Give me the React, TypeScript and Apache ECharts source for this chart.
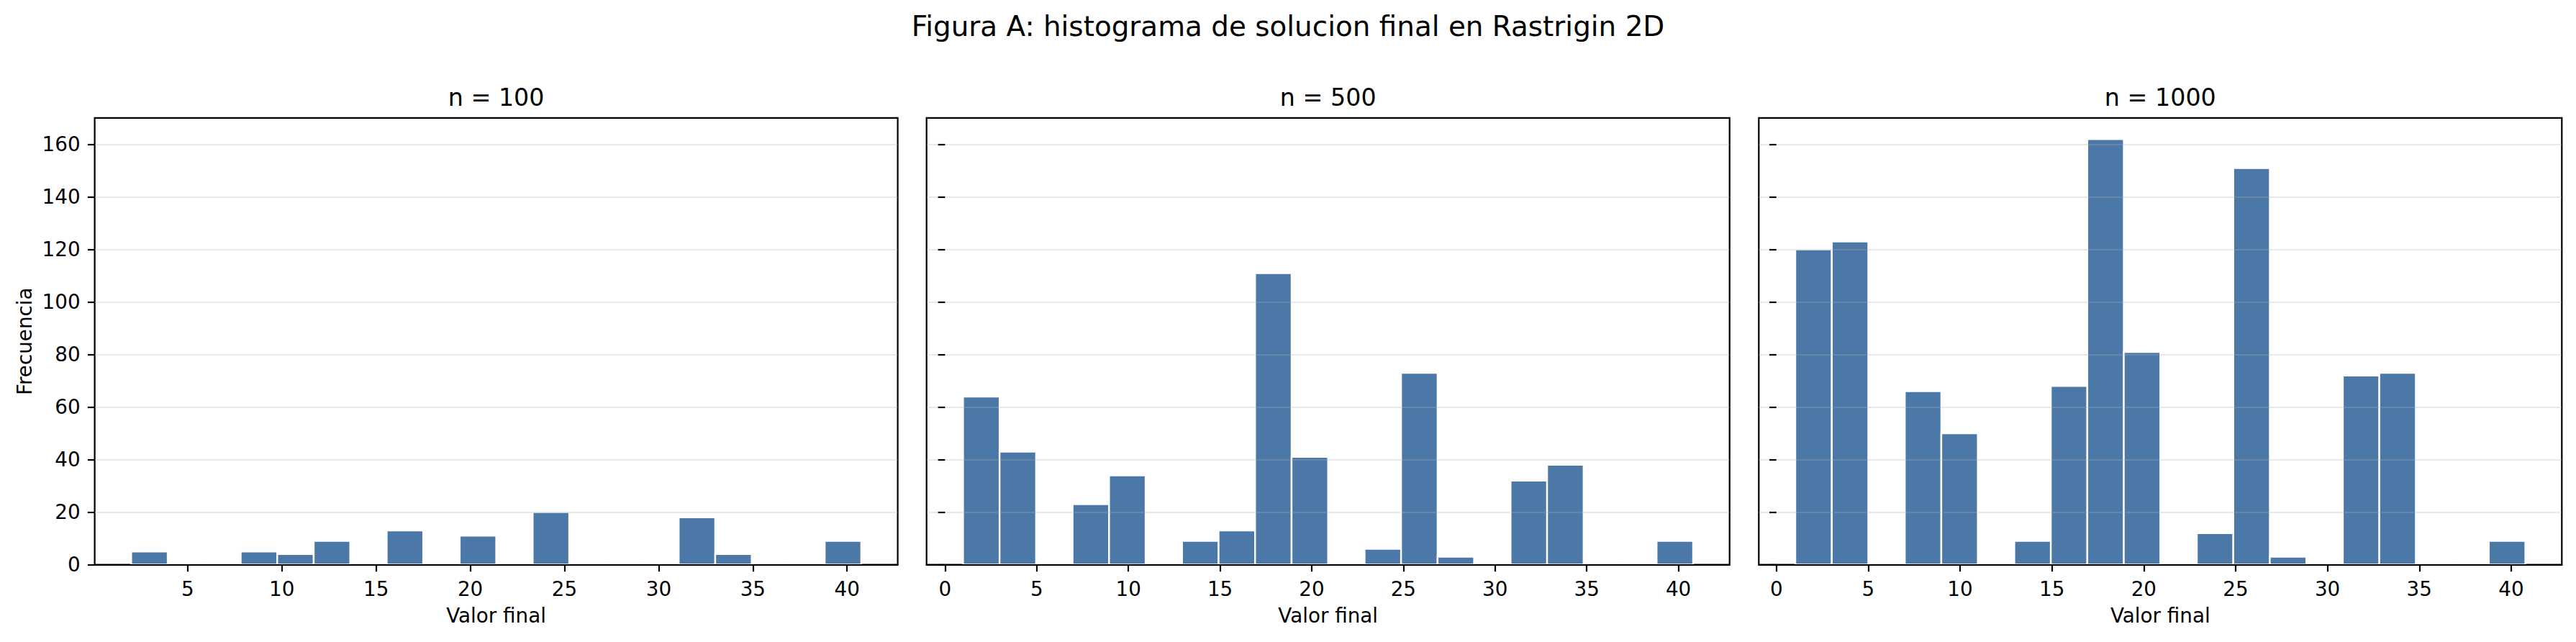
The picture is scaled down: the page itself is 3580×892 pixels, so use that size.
import React, { useEffect, useRef } from "react";
import * as echarts from "echarts";

// ---- data ----
const figureTitle = "Figura A: histograma de solucion final en Rastrigin 2D";
const panelTitles = ["n = 100", "n = 500", "n = 1000"];
const xAxisName = "Valor final";
const yAxisName = "Frecuencia";

// histogram bin range (20 equal bins) per panel
const binStarts = [2.0, 0.984, 1.03];
const binEnds = [40.75, 40.8, 40.77];
const binCount = 20;

const counts100 = [5, 0, 0, 5, 4, 9, 0, 13, 0, 11, 0, 20, 0, 0, 0, 18, 4, 0, 0, 9];
const counts500 = [64, 43, 0, 23, 34, 0, 9, 13, 111, 41, 0, 6, 73, 3, 0, 32, 38, 0, 0, 9];
const counts1000 = [120, 123, 0, 66, 50, 0, 9, 68, 162, 81, 0, 12, 151, 3, 0, 72, 73, 0, 0, 9];
const panelCounts = [counts100, counts500, counts1000];

const xTicksPanel1 = [5, 10, 15, 20, 25, 30, 35, 40];
const xTicksOther = [0, 5, 10, 15, 20, 25, 30, 35, 40];
const panelXTicks = [xTicksPanel1, xTicksOther, xTicksOther];
const yTicks = [0, 20, 40, 60, 80, 100, 120, 140, 160];

// ---- layout / style ----
const FONT = "DejaVu Sans";
const W = 3580;
const H = 892;
const gridLefts = [131.6, 1287.7, 2444.3];
const gridWidth = 1116;
const gridTop = 163.8;
const gridHeight = 620.7;
const BAR_COLOR = "#4c78a8";
const SPINE = 2.2;

export default function App() {
  const ref = useRef<HTMLDivElement | null>(null);

  useEffect(() => {
    if (!ref.current) return;
    const chart = echarts.init(ref.current, undefined, { renderer: "svg" });

    const maxCount = Math.max(...panelCounts.flat());
    const yMax = maxCount * 1.05;

    const grids: any[] = [];
    const xAxes: any[] = [];
    const yAxes: any[] = [];
    const series: any[] = [];
    const graphics: any[] = [];

    panelCounts.forEach((counts, i) => {
      const start = binStarts[i];
      const end = binEnds[i];
      const span = end - start;
      const width = span / binCount;
      const xmin = start - 0.05 * span;
      const xmax = end + 0.05 * span;

      grids.push({
        left: gridLefts[i],
        top: gridTop,
        width: gridWidth,
        height: gridHeight,
        show: true,
        borderColor: "#000",
        borderWidth: SPINE,
        backgroundColor: "transparent",
        containLabel: false,
        outerBoundsMode: "none",
      });

      xAxes.push({
        type: "value",
        gridIndex: i,
        min: xmin,
        max: xmax,
        z: 10,
        axisLine: { show: true, onZero: false, lineStyle: { color: "#000", width: SPINE } },
        axisTick: {
          show: true,
          length: 9.7,
          inside: false,
          lineStyle: { color: "#000", width: SPINE },
          customValues: panelXTicks[i],
        },
        axisLabel: {
          show: true,
          customValues: panelXTicks[i],
          margin: 19.5,
          color: "#000",
          fontSize: 27.8,
          fontFamily: FONT,
        },
        splitLine: { show: false },
        name: xAxisName,
        nameLocation: "middle",
        nameGap: 71,
        nameTextStyle: { fontSize: 27.8, color: "#000", fontFamily: FONT, verticalAlign: "middle" },
      });

      yAxes.push({
        type: "value",
        gridIndex: i,
        min: 0,
        max: yMax,
        interval: 20,
        z: 10,
        axisLine: { show: false },
        axisTick: {
          show: true,
          length: 9.7,
          inside: false,
          lineStyle: { color: "#000", width: SPINE },
          customValues: yTicks,
        },
        axisLabel: {
          show: i === 0,
          customValues: yTicks,
          margin: 20,
          color: "#000",
          fontSize: 27.8,
          fontFamily: FONT,
        },
        splitLine: { show: true, lineStyle: { color: "rgba(176,176,176,0.28)", width: 2 } },
        name: i === 0 ? yAxisName : "",
        nameLocation: "middle",
        nameGap: 97,
        nameTextStyle: { fontSize: 27.8, color: "#000", fontFamily: FONT, verticalAlign: "middle" },
      });

      const data = counts.map((c, k) => [start + k * width, start + (k + 1) * width, c]);

      series.push({
        type: "custom",
        xAxisIndex: i,
        yAxisIndex: i,
        z: 2,
        encode: { x: [0, 1], y: 2 },
        data,
        renderItem: (params: any, api: any) => {
          const x0 = api.value(0);
          const x1 = api.value(1);
          const c = api.value(2);
          const p0 = api.coord([x0, c]);
          const p1 = api.coord([x1, 0]);
          return {
            type: "rect",
            shape: { x: p0[0], y: p0[1], width: p1[0] - p0[0], height: p1[1] - p0[1] },
            style: { fill: BAR_COLOR, stroke: "#ffffff", lineWidth: 2.4 },
          };
        },
      });

      graphics.push({
        type: "text",
        x: gridLefts[i] + gridWidth / 2,
        y: 135.8,
        style: {
          text: panelTitles[i],
          fill: "#000",
          font: `33.3px "${FONT}"`,
          textAlign: "center",
          textVerticalAlign: "middle",
        },
      });
    });

    graphics.push({
      type: "text",
      x: W / 2,
      y: 36.5,
      style: {
        text: figureTitle,
        fill: "#000",
        font: `38.9px "${FONT}"`,
        textAlign: "center",
        textVerticalAlign: "middle",
      },
    });

    chart.setOption({
      animation: false,
      backgroundColor: "#ffffff",
      textStyle: { fontFamily: FONT },
      grid: grids,
      xAxis: xAxes,
      yAxis: yAxes,
      series,
      graphic: graphics,
    });

    return () => {
      chart.dispose();
    };
  }, []);

  return (
    <div
      ref={ref}
      style={{ position: "absolute", left: 0, top: 0, width: W, height: H, background: "#fff" }}
    />
  );
}
